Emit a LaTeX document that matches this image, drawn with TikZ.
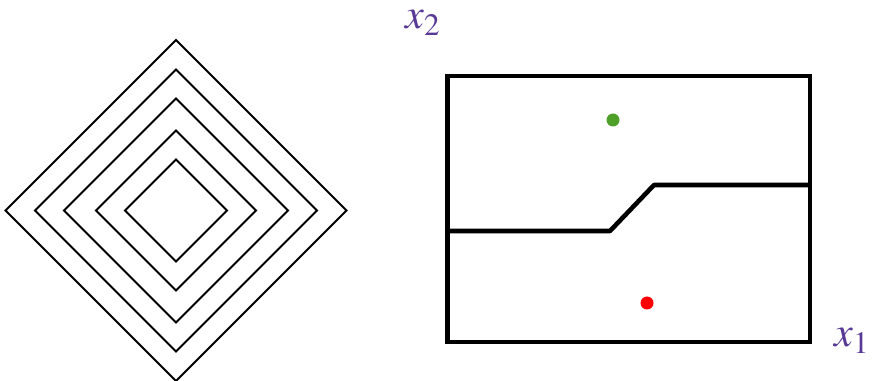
\documentclass[tikz,border=0pt]{standalone}
\usepackage{mathptmx}
\definecolor{axispurple}{RGB}{88,58,150}
\definecolor{dotgreen}{RGB}{78,160,40}
\begin{document}
\begin{tikzpicture}[x=0.02cm, y=-0.02cm,
    level/.style={line width=1.2pt},
    frame/.style={line width=2.6pt},
    axislabel/.style={text=axispurple, font=\fontsize{24}{28}\selectfont, inner sep=0pt}]
    \useasboundingbox (0,0) rectangle (872,381);
    % level sets of the norm
    \foreach \r in {51,80,112,141,170.5}{
      \draw[level] (176,210.5) ++(-\r,0) -- ++(\r,-\r) -- ++(\r,\r) -- ++(-\r,\r) -- cycle;
    }
    % feature space
    \draw[frame] (447.5,76) rectangle (810,342);
    \coordinate (bl) at (449,231);
    \coordinate (ka) at (610,231);
    \coordinate (kb) at (654,185);
    \coordinate (br) at (810,185);
    \draw[frame, line join=round] (bl) -- (ka) -- (kb) -- (br);
    \fill[dotgreen] (613,120) circle (6.5);
    \fill[red] (647,303) circle (6.5);
    \node[axislabel] (xtwo) at (423,23) {$x_2$};
    \node[axislabel] (xone) at (852,341) {$x_1$};
  \end{tikzpicture}
\end{document}
